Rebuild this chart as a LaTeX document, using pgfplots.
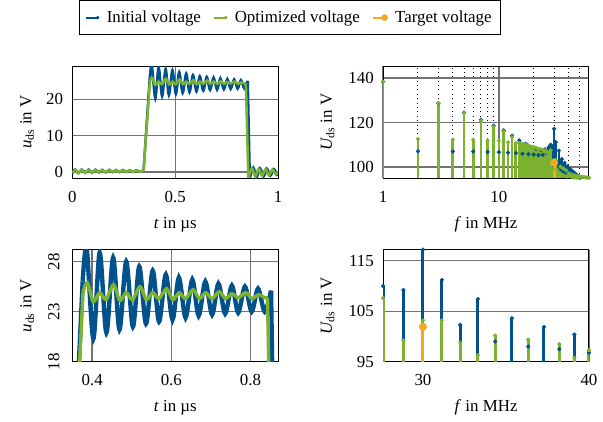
\documentclass[border=0pt]{standalone}
\usepackage{fontspec}
\setmainfont{Liberation Serif}
\usepackage{amsmath}
\usepackage{pgfplots}
\usepackage{pgfplotstable}
\pgfplotsset{compat=1.18}

\definecolor{cblue}{RGB}{0,81,140}
\definecolor{cgreen}{RGB}{125,178,48}
\definecolor{corange}{RGB}{242,170,28}

% time signal, split into ringing parts (smooth) and switching edges (straight)
\pgfplotstableread{
t u
0.000 -0.4
0.012 0.7
0.029 -0.3
0.045 0.7
0.062 -0.2
0.079 0.7
0.095 -0.2
0.112 0.65
0.129 -0.1
0.145 0.6
0.162 -0.1
0.179 0.6
0.195 0.0
0.212 0.55
0.229 0.0
0.245 0.55
0.262 0.05
0.279 0.5
0.295 0.05
0.312 0.5
0.329 0.1
0.346 0.45
}\bluepre
\pgfplotstableread{
t u
0.346 0.45
0.376 26.0
nan nan
0.852 25.1
0.862 -1.5
}\blueedge
\pgfplotstableread{
t u
0.376 26.0
0.386 29.4
0.403 20.3
0.419 28.9
0.436 20.9
0.453 28.4
0.469 21.2
0.486 28.0
0.503 21.5
0.519 27.5
0.536 21.8
0.553 27.1
0.569 22.0
0.586 26.7
0.603 22.2
0.619 26.4
0.636 22.4
0.653 26.2
0.669 22.6
0.686 26.0
0.703 22.7
0.719 25.8
0.736 22.8
0.753 25.6
0.769 22.9
0.786 25.5
0.803 23.0
0.819 25.3
0.836 23.0
0.852 25.1
}\blueplat
\pgfplotstableread{
t u
0.862 -1.5
0.879 1.2
0.895 -1.4
0.912 1.0
0.929 -1.2
0.945 0.9
0.962 -1.0
0.979 0.8
0.995 -0.8
1.000 -0.6
}\bluepost

\pgfplotstableread{
t u
0.000 -0.4
0.012 0.6
0.029 -0.3
0.045 0.6
0.062 -0.2
0.079 0.6
0.095 -0.2
0.112 0.6
0.129 -0.1
0.145 0.55
0.162 -0.1
0.179 0.55
0.195 0.0
0.212 0.5
0.229 0.0
0.245 0.5
0.262 0.05
0.279 0.5
0.295 0.05
0.312 0.45
0.329 0.1
0.346 0.4
}\greenpre
\pgfplotstableread{
t u
0.346 0.4
0.377 25.0
nan nan
0.843 24.4
0.855 -1.6
}\greenedge
\pgfplotstableread{
t u
0.377 25.0
0.388 25.9
0.403 24.0
0.419 24.9
0.435 24.2
0.454 25.7
0.470 24.1
0.486 24.9
0.502 24.2
0.521 25.5
0.537 24.2
0.553 24.9
0.569 24.3
0.588 25.3
0.604 24.2
0.620 24.9
0.636 24.3
0.655 25.2
0.671 24.3
0.687 24.9
0.703 24.3
0.721 25.0
0.737 24.3
0.753 24.8
0.769 24.4
0.788 24.9
0.804 24.3
0.820 24.7
0.836 24.4
0.843 24.4
}\greenplat
\pgfplotstableread{
t u
0.855 -1.6
0.872 1.0
0.889 -1.2
0.905 0.9
0.922 -1.0
0.939 0.8
0.955 -0.9
0.972 0.7
0.989 -0.7
1.000 0.2
}\greenpost

% spectra
\pgfplotstableread{
f U
1 138.3
2 107.1
3 128.7
4 107.0
5 124.5
6 107.0
7 121.2
8 106.8
9 118.6
10 106.7
11 116.5
12 106.5
13 114.1
14 106.3
15 112.0
16 106.0
17 110.5
18 105.8
19 109.1
20 105.6
21 108.2
22 105.4
23 107.6
24 105.5
25 108.0
26 106.5
27 109.0
28 110.0
29 109.2
30 117.2
31 111.2
32 102.3
33 107.4
34 99.0
35 103.6
36 98.0
37 101.9
38 97.5
39 100.4
40 96.8
41 99.2
42 98.0
43 98.3
44 97.5
45 97.4
46 96.6
47 96.5
48 95.9
49 95.6
50 95.2
}\specblue
\pgfplotstableread{
f U
1 138.3
2 112.6
3 128.7
4 112.3
5 124.2
6 112.3
7 120.8
8 112.0
9 118.1
10 111.9
11 116.0
12 111.1
13 113.5
14 110.8
15 110.8
16 110.5
17 110.1
18 109.7
19 108.9
20 109.1
21 108.6
22 108.2
23 108.0
24 107.8
25 107.5
26 106.9
27 106.2
28 107.6
29 99.2
30 103.2
31 103.2
32 98.8
33 96.3
34 100.2
36 99.4
38 98.5
39 95.8
40 97.3
41 96.0
42 96.8
43 95.5
44 96.5
45 95.4
46 96.2
47 95.3
48 96.0
49 95.2
50 95.8
52 95.6
54 95.5
56 95.4
58 95.3
60 95.2
}\specgreen
\pgfplotstableread{
f U
30 101.9
}\spectarget

\pgfplotsset{
  panel/.style={
    scale only axis, width=122pt, height=66.5pt,
    axis line style={line width=0.6pt},
    grid=major,
    major grid style={line width=0.8pt, black!55},
    minor grid style={line width=0.6pt, black, dotted},
    tick style={draw=none},
    /pgf/number format/assume math mode=true,
    xticklabel shift=4pt, yticklabel shift=2pt,
    x label style={at={(axis description cs:0.5,-0.41)}, anchor=center},
    y label style={at={(axis description cs:-0.22,0.5)}, anchor=center},
    legend image code/.code={\draw[#1, mark repeat=2, mark phase=2] plot coordinates {(0pt,0pt) (7pt,0pt)};},
  },
  bl/.style={cblue, line width=1.5pt, forget plot},
  gr/.style={cgreen, line width=1.5pt, forget plot},
  stemb/.style={cblue, ycomb, line width=1.6pt, mark=*, mark size=1.1pt, mark options={line width=0.3pt}, forget plot},
  stemg/.style={cgreen, ycomb, line width=1.6pt, mark=*, mark size=1.1pt, mark options={line width=0.3pt}, forget plot},
  stemo/.style={corange, ycomb, line width=1.8pt, mark=*, mark size=2.2pt, mark options={line width=0.3pt}, forget plot},
}

\begin{document}
\begin{tikzpicture}
\path (0,0) rectangle (354.7pt,-248.8pt);

\begin{axis}[panel, at={(42.9pt,-38.8pt)}, anchor=north west,
  xmin=0, xmax=1, ymin=-1.7, ymax=29.2,
  xtick={0,0.5,1}, ytick={0,10,20},
  xlabel={\textit{t} in µs}, ylabel={$\textit{u}_{\text{ds}}$ in V},
  legend columns=-1,
  legend style={at={(0,1)}, anchor=south west, xshift=4.1pt, yshift=18.2pt,
    draw=black, line width=0.5pt, inner ysep=4pt, inner xsep=3pt,
    /tikz/every odd column/.append style={column sep=2.5pt},
    /tikz/every even column/.append style={column sep=5pt}},
]
\addlegendimage{cblue, line width=1.3pt, mark=*, mark size=0.9pt, mark options={line width=0.3pt}}
\addlegendentry{Initial voltage}
\addlegendimage{cgreen, line width=1.3pt, mark=*, mark size=0.9pt, mark options={line width=0.3pt}}
\addlegendentry{Optimized voltage}
\addlegendimage{corange, line width=1.3pt, mark=*, mark size=1.8pt, mark options={line width=0.3pt}}
\addlegendentry{Target voltage}
\addplot[bl, smooth] table {\bluepre};
\addplot[bl, smooth] table {\blueplat};
\addplot[bl, smooth] table {\bluepost};
\addplot[bl, unbounded coords=jump] table {\blueedge};
\addplot[gr, smooth] table {\greenpre};
\addplot[gr, smooth] table {\greenplat};
\addplot[gr, smooth] table {\greenpost};
\addplot[gr, unbounded coords=jump] table {\greenedge};
\end{axis}

\begin{axis}[panel, at={(227.1pt,-38.8pt)}, anchor=north west,
  xmode=log, xmin=1, xmax=60, ymin=95, ymax=145.4,
  xtick={1,10}, xticklabels={1,10}, ytick={100,120,140},
  minor xtick={2,3,4,5,6,7,8,9,20,30,40,50},
  xminorgrids=true,
  xlabel={\textit{f} in MHz}, ylabel={$\textit{U}_{\text{ds}}$ in V},
  y label style={at={(axis description cs:-0.27,0.5)}},
]
\addplot[stemb] table {\specblue};
\addplot[stemg] table {\specgreen};
\addplot[stemo] table {\spectarget};
\end{axis}

\begin{axis}[panel, at={(42.9pt,-147.6pt)}, anchor=north west,
  xmin=0.35, xmax=0.87, ymin=18, ymax=29.2,
  xtick={0.4,0.6,0.8}, ytick={18,23,28},
  yticklabel style={rotate=90, anchor=south}, yticklabel shift=4pt,
  xlabel={\textit{t} in µs}, ylabel={$\textit{u}_{\text{ds}}$ in V},
]
\addplot[bl, line width=2.6pt, smooth] table {\blueplat};
\addplot[bl, line width=2.6pt, unbounded coords=jump] table {\blueedge};
\addplot[gr, line width=2pt, smooth] table {\greenplat};
\addplot[gr, line width=2pt, unbounded coords=jump] table {\greenedge};
\end{axis}

\begin{axis}[panel, at={(227.1pt,-147.6pt)}, anchor=north west,
  xmode=log, xmin=28, xmax=40, ymin=95, ymax=117.2,
  xtick={30,40}, xticklabels={30,40}, ytick={95,105,115},
  xlabel={\textit{f} in MHz}, ylabel={$\textit{U}_{\text{ds}}$ in V},
  y label style={at={(axis description cs:-0.27,0.5)}},
]
\addplot[stemb, line width=1.8pt] table {\specblue};
\addplot[stemg, line width=1.8pt] table {\specgreen};
\addplot[stemo] table {\spectarget};
\end{axis}
\end{tikzpicture}
\end{document}
